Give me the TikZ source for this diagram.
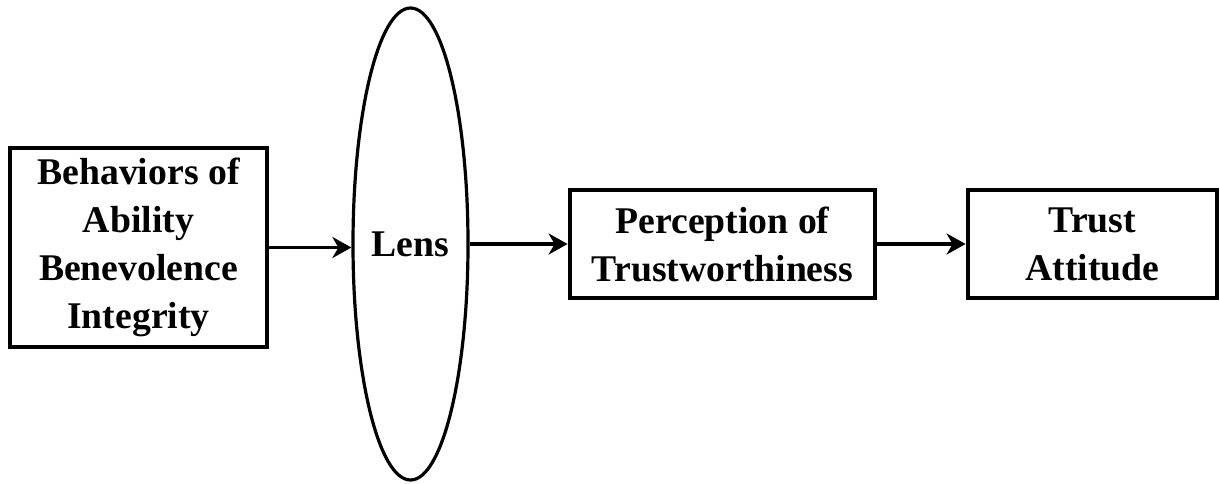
\documentclass[tikz,border=0pt]{standalone}
\usepackage{fontspec}
\setmainfont{Liberation Serif}
\usepackage{tikz}
\usetikzlibrary{arrows.meta,positioning,shapes.geometric,calc}

\begin{document}
\begin{tikzpicture}[x=0.5pt, y=-0.5pt,
    box/.style={draw, line width=2.4pt, inner sep=0pt, align=center,
      font=\fontsize{18.85}{24}\selectfont\bfseries},
    lensshape/.style={draw, ellipse, line width=1.6pt, inner sep=0pt,
      font=\fontsize{18.85}{24}\selectfont\bfseries},
    arr/.style={-{Stealth[length=9.5pt, width=10.5pt, inset=3pt]}, line width=1.8pt}]
  \useasboundingbox (0,0) rectangle (1220,483);
  % Behaviors
  \node[box, minimum width=128.5pt, minimum height=99.5pt] (beh) at (138.5,247.5)
    {Behaviors of\\Ability\\Benevolence\\Integrity};
  % Lens
  \node[lensshape, minimum width=57.5pt, minimum height=236pt] (lens) at (410.5,244) {Lens};
  % Perception
  \node[box, minimum width=152.5pt, minimum height=54pt] (perc) at (722.5,244)
    {Perception of\\Trustworthiness};
  % Trust
  \node[box, minimum width=124.5pt, minimum height=54pt] (trust) at (1092.5,244)
    {Trust\\Attitude};

  \draw[arr] (beh.east) -- (beh.east -| lens.west);
  \draw[arr] (lens) -- (perc);
  \draw[arr] (perc) -- (trust);
\end{tikzpicture}
\end{document}
